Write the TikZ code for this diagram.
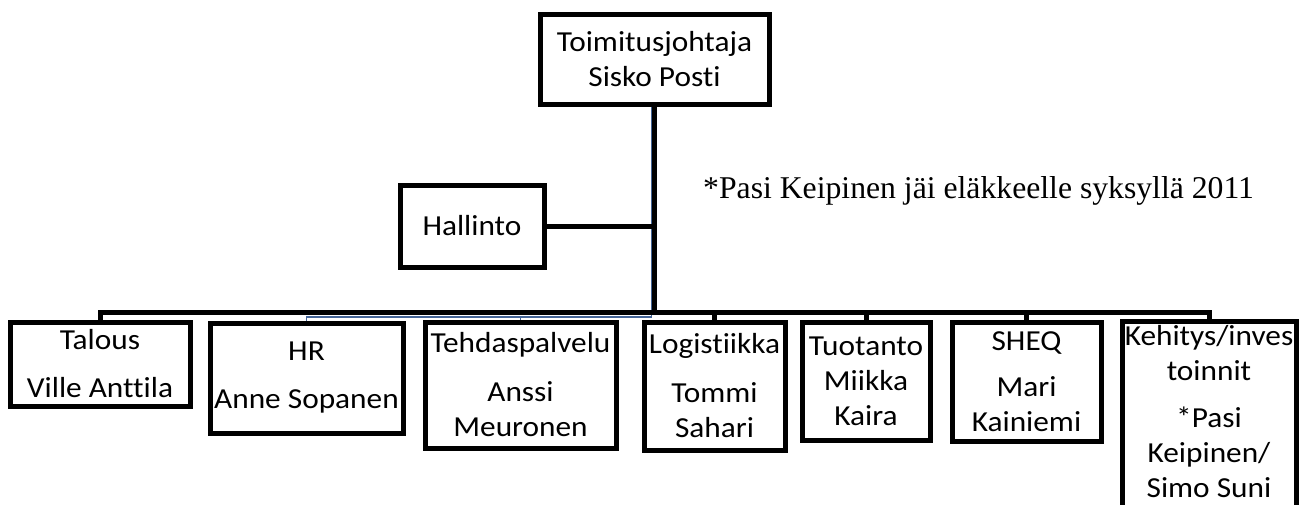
\documentclass[tikz,border=0pt]{standalone}
\usepackage{fontspec}
\newfontfamily\boxfont{Carlito}[FakeStretch=1.08, Ligatures=NoCommon]
\newfontfamily\notefont{Liberation Serif}
\usetikzlibrary{positioning}
\definecolor{feedblue}{RGB}{68,100,150}
\tikzset{unit/.style={draw, line width=5pt, fill=white, align=center, inner sep=0pt, font=\boxfont\fontsize{29}{35}\selectfont}}
\tikzset{link/.style={line width=5pt}}
\tikzset{feed/.style={draw=feedblue, line width=1.5pt}}

\begin{document}
\begin{tikzpicture}[x=1pt, y=-1pt]
\useasboundingbox (0,0) rectangle (1309,504);
\node (ceo) [unit, minimum width=229pt, minimum height=90pt] at (654.5,59) {Toimitusjohtaja\\Sisko Posti};
\node (hallinto) [unit, minimum width=144pt, minimum height=82pt] at (472,226) {Hallinto};
\node (talous) [unit, minimum width=180pt, minimum height=84pt] at (100,364) {Talous\\[13pt]Ville Anttila};
\node (hr) [unit, minimum width=193pt, minimum height=110pt] at (306.5,378) {HR\\[13pt]Anne Sopanen};
\node (tehdas) [unit, minimum width=191pt, minimum height=126pt] at (520.5,385) {Tehdaspalvelu\\[14pt]Anssi\\Meuronen};
\node (logistiikka) [unit, minimum width=141pt, minimum height=128pt] at (714.5,386) {Logistiikka\\[14pt]Tommi\\Sahari};
\node (tuotanto) [unit, minimum width=128pt, minimum height=118pt] at (866,381) {Tuotanto\\Miikka\\Kaira};
\node (sheq) [unit, minimum width=149pt, minimum height=119pt] at (1026.5,381.5) {SHEQ\\[11pt]Mari\\Kainiemi};
\node (kehitys) [unit, minimum width=174pt, minimum height=193pt] at (1209,418) {};
\node (kehitys-text) [align=center, inner sep=0pt, font=\boxfont\fontsize{29}{35}\selectfont] at (1209,412) {Kehitys/inves\\toinnit\\[12pt]*Pasi\\Keipinen/\\Simo Suni};
\node (note) [anchor=base west, inner sep=0pt, font=\notefont\fontsize{31.7}{38}\selectfont] at (703,198) {*Pasi Keipinen jäi eläkkeelle syksyllä 2011};
\coordinate (bus) at (654.5,312);
\coordinate (split) at (651.5,317);
\draw[feed] (ceo.south -| split) -- (split) -| (hr.north);
\draw[feed] (split -| tehdas.north) -- (tehdas.north);
\draw[link] (ceo.south) -- (ceo.south |- bus);
\draw[link] (hallinto.east) -- (hallinto.east -| ceo.south);
\draw[link] (talous.north) |- (bus) -| (kehitys.north);
\foreach \dept in {logistiikka, tuotanto, sheq}
    \draw[link] (\dept.north) -- (\dept.north |- bus);
\end{tikzpicture}
\end{document}
